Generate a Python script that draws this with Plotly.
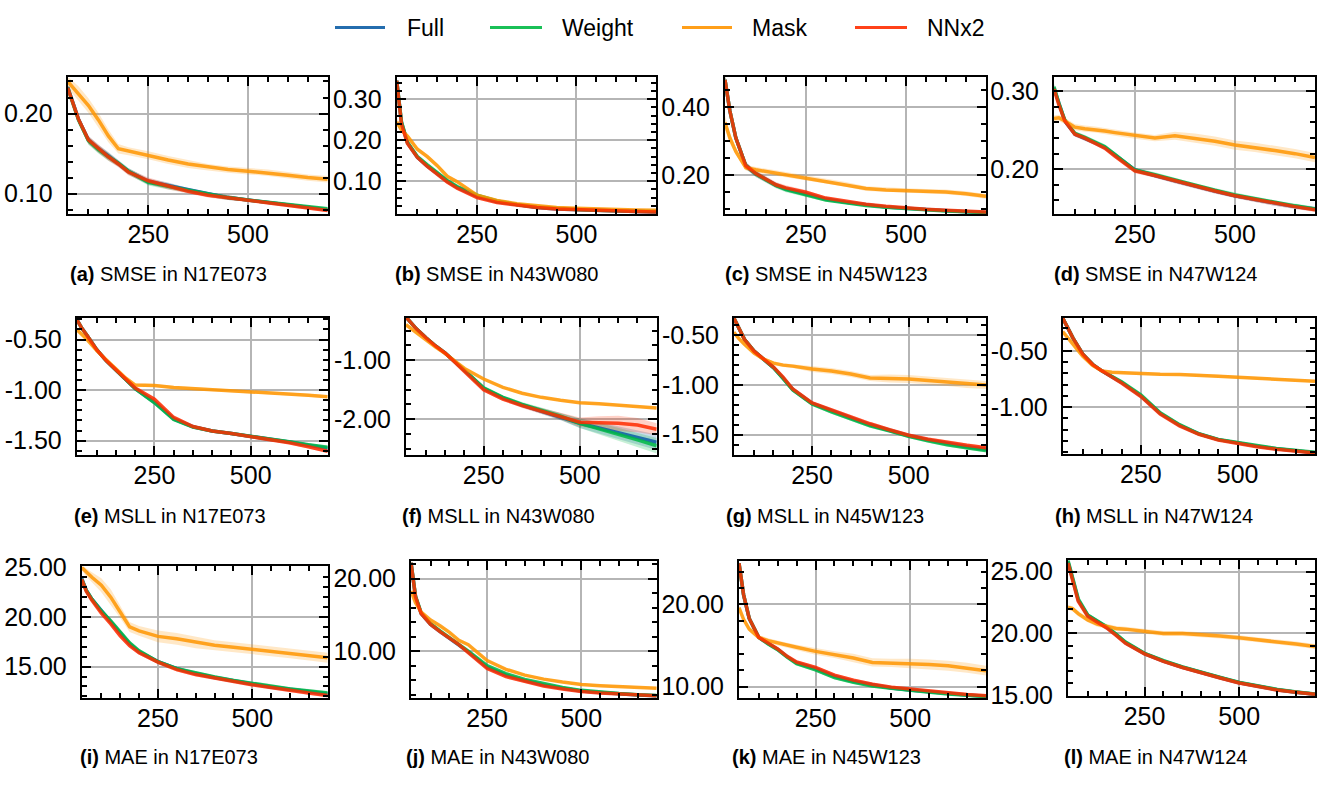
import numpy as np
import plotly.graph_objects as go

# ---------------- data ----------------
X = [48, 60, 75, 100, 125, 150, 175, 200, 250, 300, 350, 400, 450, 500, 550, 600, 650, 700]
SERIES = ["Full", "Weight", "Mask", "NNx2"]
COLORS = ["#0C5DA5", "#00B945", "#FF9500", "#FF2C00"]
SITES = ["N17E073", "N43W080", "N45W123", "N47W124"]
METRICS = ["SMSE", "MSLL", "MAE"]
LETTERS = list("abcdefghijkl")
XTICKS = [250, 500]

# (a) SMSE N17E073
A_FULL = [0.233, 0.215, 0.193, 0.167, 0.156, 0.147, 0.138, 0.128, 0.115, 0.110, 0.104, 0.099, 0.095, 0.092, 0.089, 0.086, 0.083, 0.080]
A_WEIGHT = [0.232, 0.214, 0.192, 0.166, 0.155, 0.146, 0.138, 0.128, 0.114, 0.109, 0.104, 0.099, 0.095, 0.092, 0.089, 0.086, 0.083, 0.081]
A_MASK = [0.240, 0.233, 0.225, 0.210, 0.192, 0.172, 0.156, 0.153, 0.148, 0.142, 0.137, 0.133, 0.130, 0.128, 0.126, 0.123, 0.120, 0.118]
A_NNX2 = [0.232, 0.215, 0.193, 0.167, 0.156, 0.146, 0.137, 0.127, 0.116, 0.109, 0.103, 0.098, 0.095, 0.092, 0.088, 0.085, 0.082, 0.079]
A_SD = [0.004, 0.005, 0.005, 0.005, 0.005, 0.005, 0.004, 0.004, 0.004, 0.004, 0.003, 0.003, 0.003, 0.002, 0.002, 0.002, 0.002, 0.002]
A_SD_MASK = [0.006, 0.008, 0.009, 0.009, 0.009, 0.008, 0.006, 0.005, 0.005, 0.005, 0.005, 0.004, 0.004, 0.004, 0.004, 0.004, 0.004, 0.004]

# (b) SMSE N43W080
B_FULL = [0.345, 0.243, 0.194, 0.158, 0.137, 0.119, 0.100, 0.085, 0.063, 0.050, 0.042, 0.036, 0.032, 0.030, 0.028, 0.027, 0.026, 0.025]
B_WEIGHT = [0.345, 0.245, 0.195, 0.160, 0.140, 0.121, 0.102, 0.087, 0.066, 0.052, 0.043, 0.037, 0.033, 0.031, 0.029, 0.028, 0.027, 0.026]
B_MASK = [0.245, 0.225, 0.210, 0.178, 0.160, 0.138, 0.112, 0.099, 0.066, 0.053, 0.045, 0.040, 0.036, 0.034, 0.032, 0.031, 0.030, 0.029]
B_NNX2 = [0.345, 0.240, 0.192, 0.158, 0.136, 0.118, 0.098, 0.083, 0.060, 0.048, 0.041, 0.036, 0.032, 0.030, 0.028, 0.027, 0.026, 0.025]
B_SD = [0.008, 0.007, 0.006, 0.005, 0.005, 0.004, 0.004, 0.003, 0.003, 0.002, 0.002, 0.002, 0.002, 0.002, 0.002, 0.002, 0.002, 0.002]
B_SD_MASK = [0.008, 0.007, 0.006, 0.005, 0.005, 0.005, 0.004, 0.004, 0.003, 0.003, 0.002, 0.002, 0.002, 0.002, 0.002, 0.002, 0.002, 0.002]

# (c) SMSE N45W123
C_FULL = [0.480, 0.390, 0.310, 0.228, 0.204, 0.187, 0.171, 0.160, 0.146, 0.130, 0.121, 0.113, 0.107, 0.103, 0.099, 0.096, 0.093, 0.091]
C_WEIGHT = [0.480, 0.390, 0.310, 0.228, 0.204, 0.186, 0.170, 0.158, 0.143, 0.127, 0.119, 0.111, 0.106, 0.102, 0.098, 0.095, 0.093, 0.090]
C_MASK = [0.355, 0.310, 0.270, 0.222, 0.216, 0.211, 0.206, 0.202, 0.193, 0.183, 0.173, 0.161, 0.157, 0.155, 0.153, 0.151, 0.146, 0.138]
C_NNX2 = [0.480, 0.390, 0.310, 0.228, 0.205, 0.188, 0.172, 0.163, 0.150, 0.133, 0.123, 0.115, 0.109, 0.104, 0.100, 0.097, 0.094, 0.092]
C_SD = [0.020, 0.015, 0.012, 0.010, 0.009, 0.008, 0.008, 0.008, 0.007, 0.004, 0.003, 0.003, 0.002, 0.002, 0.002, 0.002, 0.002, 0.002]
C_SD_MASK = [0.020, 0.015, 0.010, 0.008, 0.008, 0.008, 0.008, 0.008, 0.008, 0.008, 0.007, 0.007, 0.007, 0.007, 0.007, 0.007, 0.007, 0.007]

# (d) SMSE N47W124
D_FULL = [0.304, 0.284, 0.262, 0.245, 0.240, 0.234, 0.228, 0.218, 0.199, 0.192, 0.185, 0.178, 0.172, 0.166, 0.161, 0.156, 0.152, 0.149]
D_WEIGHT = [0.306, 0.285, 0.263, 0.246, 0.241, 0.235, 0.229, 0.219, 0.199, 0.193, 0.186, 0.179, 0.173, 0.167, 0.162, 0.157, 0.153, 0.149]
D_MASK = [0.265, 0.266, 0.262, 0.254, 0.252, 0.251, 0.249, 0.247, 0.243, 0.240, 0.243, 0.240, 0.236, 0.231, 0.228, 0.224, 0.220, 0.215]
D_NNX2 = [0.303, 0.283, 0.262, 0.245, 0.240, 0.234, 0.227, 0.217, 0.198, 0.192, 0.185, 0.178, 0.172, 0.166, 0.161, 0.156, 0.152, 0.148]
D_SD = [0.004, 0.004, 0.004, 0.003, 0.003, 0.003, 0.003, 0.003, 0.003, 0.003, 0.003, 0.003, 0.003, 0.003, 0.003, 0.003, 0.003, 0.003]
D_SD_MASK = [0.004, 0.004, 0.004, 0.004, 0.004, 0.004, 0.004, 0.004, 0.004, 0.004, 0.005, 0.006, 0.006, 0.006, 0.006, 0.006, 0.006, 0.006]

# (e) MSLL N17E073
E_FULL = [-0.30, -0.38, -0.46, -0.60, -0.71, -0.80, -0.89, -0.985, -1.12, -1.285, -1.362, -1.404, -1.43, -1.456, -1.483, -1.513, -1.545, -1.575]
E_WEIGHT = [-0.30, -0.38, -0.46, -0.60, -0.71, -0.80, -0.89, -0.985, -1.125, -1.29, -1.365, -1.405, -1.43, -1.455, -1.48, -1.51, -1.54, -1.565]
E_MASK = [-0.40, -0.44, -0.50, -0.61, -0.70, -0.79, -0.88, -0.95, -0.955, -0.975, -0.985, -0.995, -1.005, -1.015, -1.025, -1.04, -1.05, -1.065]
E_NNX2 = [-0.30, -0.38, -0.46, -0.60, -0.71, -0.80, -0.89, -0.98, -1.09, -1.27, -1.36, -1.405, -1.43, -1.46, -1.49, -1.52, -1.56, -1.605]
E_SD = [0.015] * 18
E_SD_MASK = [0.015] * 18

# (f) MSLL N43W080
F_FULL = [-0.27, -0.36, -0.47, -0.62, -0.76, -0.88, -1.02, -1.17, -1.48, -1.64, -1.76, -1.86, -1.96, -2.07, -2.15, -2.23, -2.31, -2.39]
F_WEIGHT = [-0.27, -0.36, -0.47, -0.62, -0.76, -0.88, -1.02, -1.17, -1.47, -1.63, -1.75, -1.85, -1.95, -2.07, -2.16, -2.26, -2.35, -2.45]
F_MASK = [-0.40, -0.46, -0.54, -0.66, -0.78, -0.89, -1.02, -1.14, -1.32, -1.46, -1.56, -1.63, -1.68, -1.72, -1.74, -1.76, -1.78, -1.81]
F_NNX2 = [-0.27, -0.36, -0.47, -0.62, -0.76, -0.88, -1.03, -1.19, -1.50, -1.66, -1.77, -1.86, -1.95, -2.05, -2.06, -2.07, -2.10, -2.17]
F_SD = [0.02, 0.02, 0.02, 0.02, 0.02, 0.02, 0.02, 0.02, 0.03, 0.03, 0.04, 0.05, 0.06, 0.08, 0.10, 0.11, 0.12, 0.13]
F_SD_NNX2 = [0.02, 0.02, 0.02, 0.02, 0.02, 0.02, 0.02, 0.02, 0.03, 0.03, 0.04, 0.05, 0.06, 0.08, 0.11, 0.13, 0.12, 0.10]
F_SD_MASK = [0.02] * 18

# (g) MSLL N45W123
G_FULL = [-0.33, -0.43, -0.54, -0.66, -0.74, -0.825, -0.93, -1.045, -1.185, -1.26, -1.33, -1.40, -1.455, -1.51, -1.552, -1.59, -1.62, -1.645]
G_WEIGHT = [-0.33, -0.43, -0.54, -0.66, -0.74, -0.825, -0.935, -1.05, -1.19, -1.27, -1.34, -1.41, -1.46, -1.515, -1.56, -1.60, -1.63, -1.66]
G_MASK = [-0.47, -0.53, -0.59, -0.68, -0.74, -0.78, -0.80, -0.81, -0.84, -0.86, -0.89, -0.93, -0.935, -0.94, -0.955, -0.97, -0.99, -1.00]
G_NNX2 = [-0.33, -0.43, -0.54, -0.66, -0.74, -0.82, -0.92, -1.04, -1.18, -1.25, -1.32, -1.39, -1.45, -1.505, -1.545, -1.578, -1.605, -1.63]
G_SD = [0.02] * 18
G_SD_MASK = [0.02, 0.02, 0.02, 0.02, 0.02, 0.02, 0.02, 0.02, 0.03, 0.03, 0.03, 0.03, 0.04, 0.04, 0.04, 0.04, 0.04, 0.04]

# (h) MSLL N47W124
H_FULL = [-0.21, -0.29, -0.39, -0.53, -0.62, -0.68, -0.73, -0.78, -0.90, -1.055, -1.16, -1.237, -1.287, -1.317, -1.345, -1.368, -1.387, -1.403]
H_WEIGHT = [-0.21, -0.29, -0.39, -0.53, -0.62, -0.68, -0.725, -0.775, -0.89, -1.05, -1.155, -1.235, -1.285, -1.315, -1.34, -1.365, -1.385, -1.40]
H_MASK = [-0.33, -0.38, -0.44, -0.55, -0.63, -0.68, -0.69, -0.695, -0.705, -0.708, -0.71, -0.715, -0.725, -0.735, -0.745, -0.752, -0.76, -0.77]
H_NNX2 = [-0.21, -0.29, -0.39, -0.53, -0.62, -0.68, -0.735, -0.785, -0.905, -1.06, -1.165, -1.24, -1.29, -1.32, -1.35, -1.372, -1.39, -1.406]
H_SD = [0.012] * 18
H_SD_MASK = [0.012] * 18

# (i) MAE N17E073
I_FULL = [23.9, 22.7, 21.8, 20.6, 19.5, 18.4, 17.3, 16.5, 15.5, 14.8, 14.3, 13.9, 13.55, 13.25, 12.95, 12.7, 12.45, 12.25]
I_WEIGHT = [23.8, 22.7, 21.8, 20.6, 19.6, 18.5, 17.4, 16.6, 15.5, 14.8, 14.35, 13.95, 13.6, 13.3, 13.0, 12.75, 12.55, 12.35]
I_MASK = [25.0, 24.5, 24.0, 23.2, 22.0, 20.5, 19.0, 18.6, 18.05, 17.8, 17.45, 17.15, 16.95, 16.75, 16.55, 16.35, 16.15, 15.9]
I_NNX2 = [23.8, 22.6, 21.7, 20.4, 19.3, 18.1, 17.1, 16.4, 15.45, 14.7, 14.2, 13.85, 13.5, 13.18, 12.9, 12.6, 12.35, 12.1]
I_SD = [0.2] * 18
I_SD_MASK = [0.3, 0.4, 0.5, 0.7, 0.8, 0.6, 0.5, 0.5, 0.6, 0.6, 0.6, 0.5, 0.5, 0.5, 0.5, 0.5, 0.5, 0.5]

# (j) MAE N43W080
J_FULL = [22.2, 17.5, 15.2, 13.7, 12.7, 11.8, 10.9, 9.9, 7.8, 6.7, 5.95, 5.35, 4.9, 4.5, 4.3, 4.1, 3.95, 3.85]
J_WEIGHT = [22.2, 17.6, 15.3, 13.8, 12.8, 11.9, 11.0, 10.0, 8.0, 6.9, 6.1, 5.5, 5.0, 4.6, 4.35, 4.15, 4.0, 3.9]
J_MASK = [18.3, 16.7, 15.4, 14.3, 13.5, 12.6, 11.5, 10.9, 8.7, 7.5, 6.7, 6.15, 5.75, 5.42, 5.25, 5.1, 5.0, 4.9]
J_NNX2 = [22.2, 17.5, 15.2, 13.7, 12.7, 11.8, 10.9, 9.8, 7.6, 6.5, 5.8, 5.2, 4.8, 4.45, 4.25, 4.1, 3.95, 3.85]
J_SD = [0.15] * 18
J_SD_MASK = [0.15] * 18

# (k) MAE N45W123
K_FULL = [25.0, 21.2, 18.3, 16.0, 15.25, 14.55, 13.65, 12.9, 12.2, 11.25, 10.65, 10.2, 9.85, 9.6, 9.38, 9.18, 9.0, 8.85]
K_WEIGHT = [25.0, 21.2, 18.3, 16.0, 15.2, 14.5, 13.6, 12.8, 12.05, 11.1, 10.55, 10.1, 9.8, 9.55, 9.3, 9.1, 8.95, 8.8]
K_MASK = [19.6, 18.2, 17.0, 16.0, 15.6, 15.3, 15.05, 14.8, 14.3, 13.9, 13.5, 12.95, 12.9, 12.8, 12.7, 12.55, 12.3, 11.95]
K_NNX2 = [25.0, 21.2, 18.3, 16.0, 15.3, 14.6, 13.7, 13.0, 12.35, 11.4, 10.8, 10.3, 9.95, 9.7, 9.45, 9.25, 9.05, 8.9]
K_SD = [0.2] * 18
K_SD_MASK = [0.3, 0.3, 0.3, 0.3, 0.3, 0.3, 0.3, 0.3, 0.4, 0.4, 0.5, 0.5, 0.5, 0.6, 0.6, 0.6, 0.6, 0.6]

# (l) MAE N47W124
L_FULL = [25.8, 24.4, 22.7, 21.45, 21.0, 20.5, 19.9, 19.25, 18.37, 17.77, 17.27, 16.82, 16.42, 16.02, 15.72, 15.45, 15.26, 15.09]
L_WEIGHT = [25.9, 24.5, 22.8, 21.5, 21.05, 20.55, 19.95, 19.3, 18.4, 17.8, 17.3, 16.85, 16.45, 16.05, 15.75, 15.48, 15.28, 15.1]
L_MASK = [22.1, 22.0, 21.6, 21.1, 20.75, 20.55, 20.4, 20.35, 20.2, 20.0, 20.0, 19.92, 19.8, 19.65, 19.5, 19.33, 19.15, 18.95]
L_NNX2 = [25.7, 24.3, 22.6, 21.4, 20.95, 20.45, 19.85, 19.2, 18.35, 17.75, 17.25, 16.8, 16.4, 16.0, 15.7, 15.43, 15.25, 15.08]
L_SD = [0.15] * 18
L_SD_MASK = [0.2] * 18

# y-axis ticks (major values, minor step, visible range) per panel
Y_TICKS = [
    [0.10, 0.20], [0.10, 0.20, 0.30], [0.20, 0.40], [0.20, 0.30],
    [-1.50, -1.00, -0.50], [-2.00, -1.00], [-1.50, -1.00, -0.50], [-1.00, -0.50],
    [15.0, 20.0, 25.0], [10.0, 20.0], [10.0, 20.0], [15.0, 20.0, 25.0],
]
Y_MINOR = [0.02, 0.02, 0.05, 0.02, 0.1, 0.25, 0.1, 0.1, 1.0, 2.0, 2.0, 1.0]
Y_RANGE = [
    [0.074, 0.245], [0.019, 0.353], [0.085, 0.487], [0.142, 0.319],
    [-1.638, -0.283], [-2.60, -0.279], [-1.70, -0.322], [-1.414, -0.206],
    [11.85, 25.1], [3.56, 22.44], [8.64, 25.29], [14.92, 25.91],
]
X_RANGE = [48, 700]

PANEL_DATA = [
    (A_FULL, A_WEIGHT, A_MASK, A_NNX2, [A_SD, A_SD, A_SD_MASK, A_SD]),
    (B_FULL, B_WEIGHT, B_MASK, B_NNX2, [B_SD, B_SD, B_SD_MASK, B_SD]),
    (C_FULL, C_WEIGHT, C_MASK, C_NNX2, [C_SD, C_SD, C_SD_MASK, C_SD]),
    (D_FULL, D_WEIGHT, D_MASK, D_NNX2, [D_SD, D_SD, D_SD_MASK, D_SD]),
    (E_FULL, E_WEIGHT, E_MASK, E_NNX2, [E_SD, E_SD, E_SD_MASK, E_SD]),
    (F_FULL, F_WEIGHT, F_MASK, F_NNX2, [F_SD, F_SD, F_SD_MASK, F_SD_NNX2]),
    (G_FULL, G_WEIGHT, G_MASK, G_NNX2, [G_SD, G_SD, G_SD_MASK, G_SD]),
    (H_FULL, H_WEIGHT, H_MASK, H_NNX2, [H_SD, H_SD, H_SD_MASK, H_SD]),
    (I_FULL, I_WEIGHT, I_MASK, I_NNX2, [I_SD, I_SD, I_SD_MASK, I_SD]),
    (J_FULL, J_WEIGHT, J_MASK, J_NNX2, [J_SD, J_SD, J_SD_MASK, J_SD]),
    (K_FULL, K_WEIGHT, K_MASK, K_NNX2, [K_SD, K_SD, K_SD_MASK, K_SD]),
    (L_FULL, L_WEIGHT, L_MASK, L_NNX2, [L_SD, L_SD, L_SD_MASK, L_SD]),
]

# ---------------- layout geometry (pixels) ----------------
W, H = 1331, 787
BOXES = [  # left, right, top, bottom
    (67.7, 327.7, 66.7, 208.3), (396.7, 656.0, 66.7, 208.3), (725.0, 986.0, 66.7, 208.3), (1054.0, 1315.0, 65.7, 208.3),
    (76.7, 327.7, 315.0, 456.7), (406.0, 656.7, 315.0, 456.7), (734.0, 986.0, 315.0, 456.7), (1062.7, 1315.0, 315.0, 456.0),
    (81.7, 327.7, 572.3, 708.3), (411.0, 656.7, 566.7, 708.3), (739.0, 986.0, 566.7, 708.3), (1068.0, 1315.0, 566.0, 706.7),
]
CAPTION_POS = [
    (68, 270), (393, 270), (723, 270), (1052, 270),
    (71.7, 520), (400, 520), (724, 520), (1053.3, 520),
    (78.3, 769.3), (404, 769.3), (730, 769.3), (1061.7, 769.3),
]
LEGEND_LINES = [(335, 385), (490, 542), (682, 732), (855, 907)]
LEGEND_TEXT_X = [405, 560, 750, 925]
LEGEND_Y = 15


def fx(p):
    return p / W


def fy(p):
    return 1 - p / H


def rgba(hexc, a):
    h = hexc.lstrip("#")
    r, g, b = int(h[0:2], 16), int(h[2:4], 16), int(h[4:6], 16)
    return f"rgba({r},{g},{b},{a})"


FONT = "Liberation Sans, Arial, Helvetica, sans-serif"

fig = go.Figure()
xs = np.array(X, dtype=float)

for i, (full, weight, mask, nnx2, sds) in enumerate(PANEL_DATA):
    n = "" if i == 0 else str(i + 1)
    means = [full, weight, mask, nnx2]
    # std bands first
    for s, (m, sd) in enumerate(zip(means, sds)):
        m = np.array(m, dtype=float)
        sd = np.array(sd, dtype=float)
        fig.add_trace(go.Scatter(
            x=np.concatenate([xs, xs[::-1]]),
            y=np.concatenate([m + sd, (m - sd)[::-1]]),
            fill="toself", fillcolor=rgba(COLORS[s], 0.22),
            line=dict(width=0), mode="lines", hoverinfo="skip",
            showlegend=False, xaxis="x" + n, yaxis="y" + n,
        ))
    for s, m in enumerate(means):
        fig.add_trace(go.Scatter(
            x=X, y=m, mode="lines", name=SERIES[s],
            line=dict(color=rgba(COLORS[s], 0.85), width=3.5),
            showlegend=False, xaxis="x" + n, yaxis="y" + n,
        ))

layout = dict(
    width=W, height=H, margin=dict(l=0, r=0, t=0, b=0),
    paper_bgcolor="white", plot_bgcolor="white", showlegend=False,
    font=dict(family=FONT, color="black"),
)
annotations = []
shapes = []

for i in range(12):
    n = "" if i == 0 else str(i + 1)
    L, R, T, B = BOXES[i]
    common = dict(
        ticks="inside", ticklen=9, tickwidth=1.6, tickcolor="black",
        showline=True, linecolor="black", linewidth=2, mirror="ticks",
        showgrid=True, gridcolor="#b5b5b5", gridwidth=1.5, zeroline=False,
        tickfont=dict(family=FONT, size=25, color="black"),
    )
    layout["xaxis" + n] = dict(
        domain=[fx(L), fx(R)], anchor="y" + n, range=X_RANGE,
        tickmode="array", tickvals=XTICKS, ticktext=[str(v) for v in XTICKS],
        minor=dict(tickmode="linear", tick0=0, dtick=50, ticks="inside", ticklen=5,
                   tickwidth=1.6, tickcolor="black", showgrid=False),
        ticklabelstandoff=-3, **common,
    )
    yt = Y_TICKS[i]
    layout["yaxis" + n] = dict(
        domain=[fy(B), fy(T)], anchor="x" + n, range=Y_RANGE[i],
        tickmode="array", tickvals=yt, ticktext=[f"{v:.2f}" for v in yt],
        minor=dict(tickmode="linear", tick0=0, dtick=Y_MINOR[i], ticks="inside", ticklen=5,
                   tickwidth=1.6, tickcolor="black", showgrid=False),
        ticklabelstandoff=8, **common,
    )
    metric = METRICS[i // 4]
    site = SITES[i % 4]
    cx, cy = CAPTION_POS[i]
    annotations.append(dict(
        xref="paper", yref="paper", x=fx(cx), y=fy(cy), xanchor="left", yanchor="middle",
        text=f"<b>({LETTERS[i]})</b> {metric} in {site}", showarrow=False,
        font=dict(family=FONT, size=20, color="black"),
    ))

for s in range(4):
    x0, x1 = LEGEND_LINES[s]
    shapes.append(dict(type="line", xref="paper", yref="paper",
                       x0=fx(x0), x1=fx(x1), y0=fy(LEGEND_Y), y1=fy(LEGEND_Y),
                       line=dict(color=rgba(COLORS[s], 0.9), width=3)))
    annotations.append(dict(
        xref="paper", yref="paper", x=fx(LEGEND_TEXT_X[s]), y=fy(LEGEND_Y),
        xanchor="left", yanchor="middle", text=SERIES[s], showarrow=False,
        font=dict(family=FONT, size=23, color="black"),
    ))

layout["annotations"] = annotations
layout["shapes"] = shapes
fig.update_layout(**layout)

fig.write_html("out.html", config={"displayModeBar": False},
               post_script="document.body.style.margin='0';")
